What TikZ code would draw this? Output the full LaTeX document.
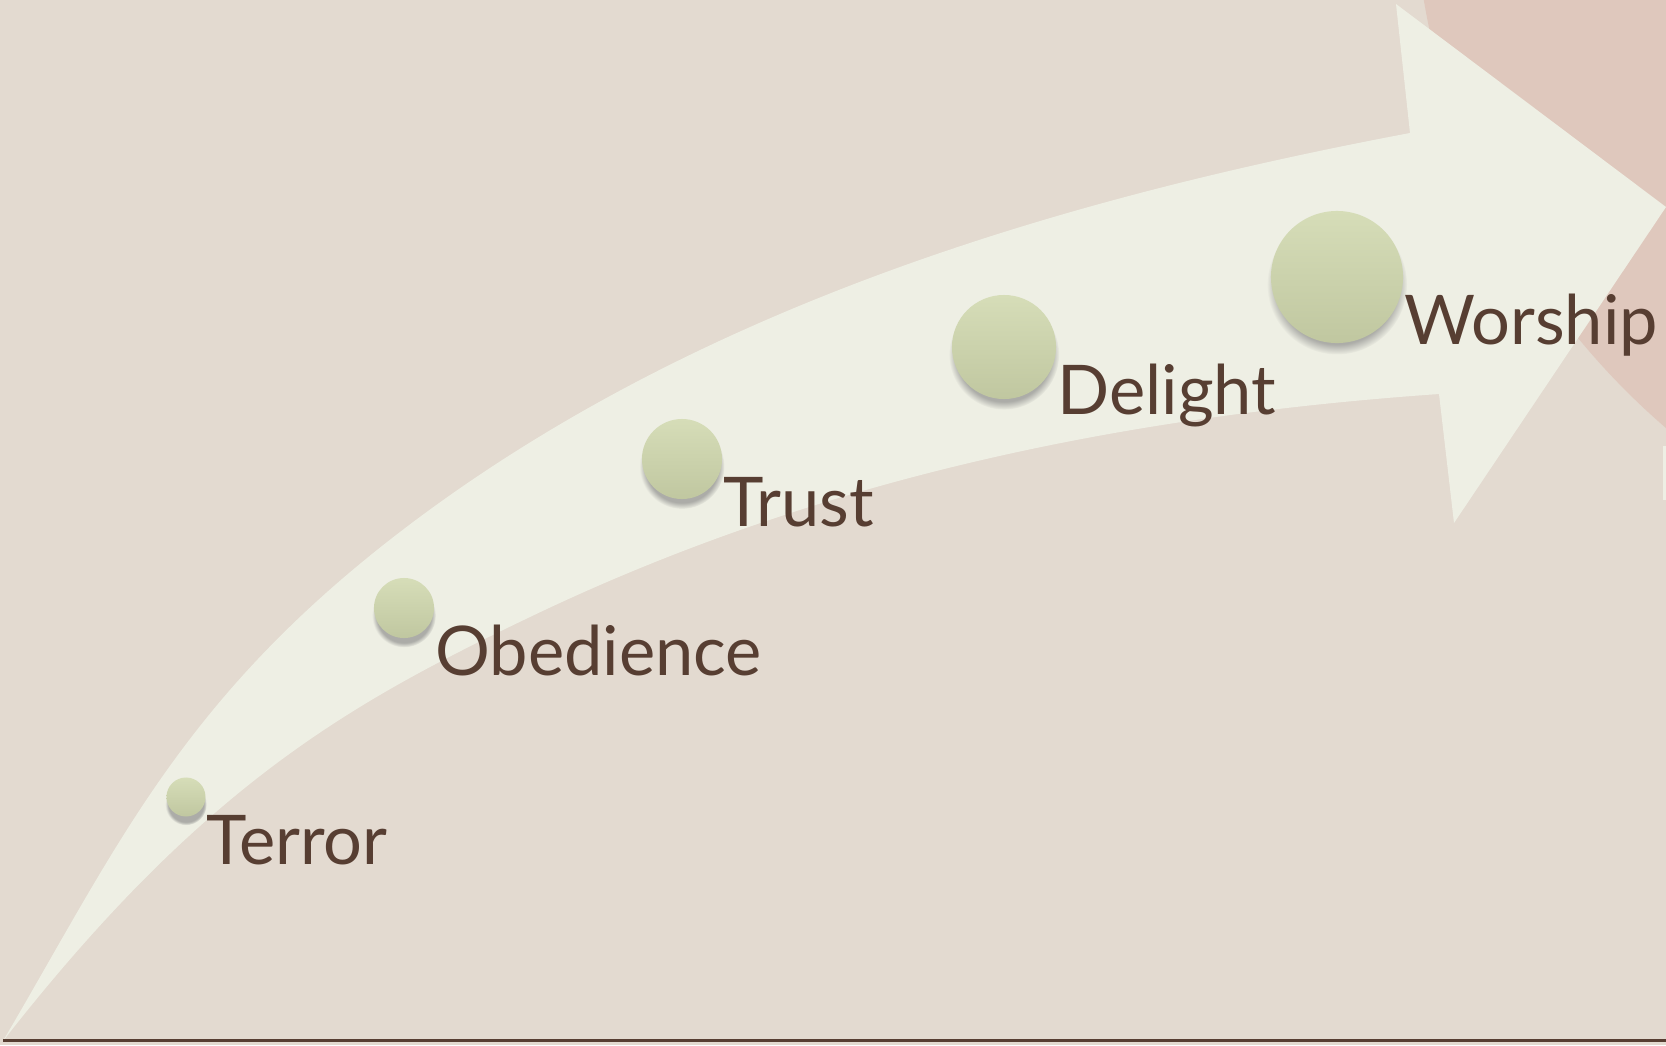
\documentclass[tikz,border=0pt]{standalone}
\usepackage{fontspec}
\setmainfont{Lato}
\usepackage{tikz}
\usetikzlibrary{shadows}

\definecolor{pagebg}{RGB}{227,218,208}
\definecolor{arrowbg}{RGB}{238,239,228}
\definecolor{rosebg}{RGB}{223,200,189}
\definecolor{dotlight}{RGB}{214,221,184}
\definecolor{dotdark}{RGB}{192,199,160}
\definecolor{inkbrown}{RGB}{87,62,50}

\begin{document}
\begin{tikzpicture}[x = 0.01cm, y = -0.01cm,
  stagedot/.style = {circle, inner sep = 0pt, top color = dotlight, bottom color = dotdark,
    circular drop shadow = {shadow xshift = 0pt, shadow yshift = -2pt, shadow scale = 1.06, opacity = 0.6}},
  stageword/.style = {inner sep = 0pt, anchor = base west, text = inkbrown,
    font = \fontsize{19.5}{24}\selectfont}]
\def\picwidth{1666}
\def\picheight{1045}
\useasboundingbox (0,0) rectangle (\picwidth,\picheight);
\fill [pagebg] (0,0) rectangle (\picwidth,\picheight);
              %rose corner
\begin{scope}
\clip (0,0) rectangle (\picwidth,\picheight);
\fill [rosebg] (2139,-122) circle [radius = 7.25cm];
\end{scope}
\fill [arrowbg] (1663,446) rectangle (\picwidth,500);
              %the sweeping arrow
\fill [arrowbg] (3,1041) .. controls (113,854) and (177,710) .. (377,550)
  .. controls (677,310) and (1060,199) .. (1410,133)
  -- (1396,4) -- (1666,207) -- (1454,523) -- (1439,394)
  .. controls (1139,415) and (830,473) .. (530,617)
  .. controls (350,703) and (203,785) .. (3,1041) -- cycle;
              %the stages
\foreach \x/\y/\d/\word [count = \i] in {186/797/0.39/Terror, 404/608/0.60/Obedience,
    682/459/0.80/Trust, 1004/347/1.04/Delight, 1337/277/1.32/Worship}{
\node [stagedot, minimum size = \d cm] (dot\i) at (\x,\y) {};
\node [stageword] (word\i) at ([yshift = -0.67cm]dot\i.east) {\word};
}
              %base line
\draw [inkbrown, line width = 0.03cm] (3,1040) -- (\picwidth,1040);
\end{tikzpicture}
\end{document}
